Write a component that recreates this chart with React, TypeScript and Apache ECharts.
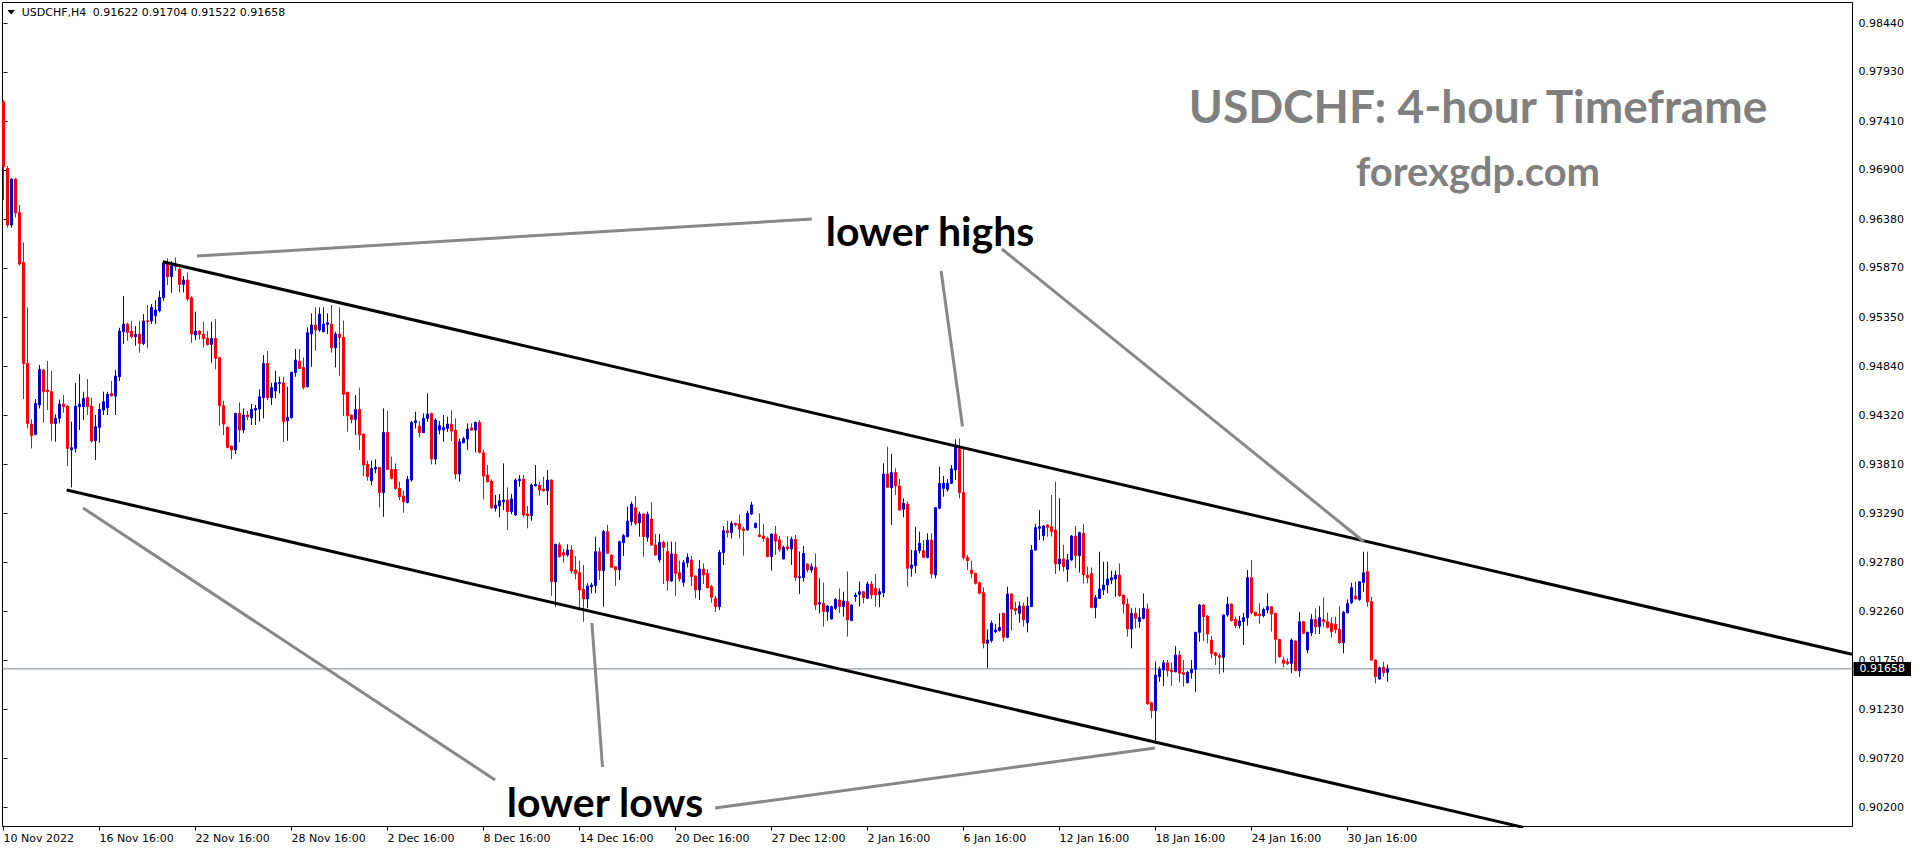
import React, { useEffect, useRef } from 'react';
import * as echarts from 'echarts';

const symbolName = 'USDCHF,H4';
const titleText = 'USDCHF: 4-hour Timeframe';
const siteText = 'forexgdp.com';
const highsNote = 'lower highs';
const lowsNote = 'lower lows';

const xLabels = ['10 Nov 2022', '16 Nov 16:00', '22 Nov 16:00', '28 Nov 16:00', '2 Dec 16:00', '8 Dec 16:00', '14 Dec 16:00', '20 Dec 16:00', '27 Dec 12:00', '2 Jan 16:00', '6 Jan 16:00', '12 Jan 16:00', '18 Jan 16:00', '24 Jan 16:00', '30 Jan 16:00'];
const xLabelBars = [0, 24, 48, 72, 96, 120, 144, 168, 192, 216, 240, 264, 288, 312, 336];
const yTicks = [0.9844, 0.9793, 0.9741, 0.969, 0.9638, 0.9587, 0.9535, 0.9484, 0.9432, 0.9381, 0.9329, 0.9278, 0.9226, 0.9175, 0.9123, 0.9072, 0.902];

const opens = [
  0.97616, 0.96916, 0.96321, 0.96804, 0.96454, 0.95928, 0.94867, 0.94230, 0.94121, 0.94430,
  0.94797, 0.94587, 0.94570, 0.94237, 0.94290, 0.94440, 0.94419, 0.93957, 0.93974, 0.94412,
  0.94412, 0.94510, 0.94419, 0.94055, 0.94195, 0.94377, 0.94402, 0.94552, 0.94524, 0.94727,
  0.95200, 0.95281, 0.95207, 0.95148, 0.95176, 0.95077, 0.95316, 0.95312, 0.95368, 0.95421,
  0.95557, 0.95918, 0.95778, 0.95893, 0.95858, 0.95697, 0.95743, 0.95557, 0.95165, 0.95207,
  0.95172, 0.95130, 0.95067, 0.95130, 0.94927, 0.94423, 0.94198, 0.93999, 0.93957, 0.94342,
  0.94167, 0.94325, 0.94296, 0.94377, 0.94388, 0.94507, 0.94867, 0.94507, 0.94577, 0.94657,
  0.94664, 0.94265, 0.94296, 0.94773, 0.94892, 0.94825, 0.94622, 0.95176, 0.95270, 0.95218,
  0.95200, 0.95277, 0.95281, 0.95032, 0.95176, 0.95140, 0.94563, 0.94325, 0.94279, 0.94384,
  0.94125, 0.93810, 0.93635, 0.93757, 0.93775, 0.93509, 0.94142, 0.93754, 0.93754, 0.93554,
  0.93474, 0.93407, 0.93642, 0.94244, 0.94209, 0.94139, 0.94290, 0.94342, 0.93862, 0.94167,
  0.94167, 0.94184, 0.94230, 0.94167, 0.93705, 0.94034, 0.94072, 0.94191, 0.94167, 0.94248,
  0.93929, 0.93694, 0.93631, 0.93345, 0.93369, 0.93415, 0.93432, 0.93310, 0.93275, 0.93635,
  0.93653, 0.93285, 0.93268, 0.93583, 0.93590, 0.93548, 0.93530, 0.93642, 0.92574, 0.92960,
  0.92879, 0.92854, 0.92907, 0.92697, 0.92669, 0.92494, 0.92392, 0.92522, 0.92532, 0.92889,
  0.92690, 0.93100, 0.92854, 0.92732, 0.92697, 0.92984, 0.93047, 0.93205, 0.93352, 0.93194,
  0.93285, 0.93040, 0.93233, 0.92960, 0.92802, 0.92988, 0.92890, 0.92581, 0.92865, 0.92669,
  0.92567, 0.92774, 0.92802, 0.92634, 0.92487, 0.92707, 0.92662, 0.92522, 0.92399, 0.92312,
  0.92879, 0.93110, 0.93089, 0.93187, 0.93180, 0.93128, 0.93117, 0.93285, 0.93142, 0.93065,
  0.93054, 0.93029, 0.92837, 0.93075, 0.93012, 0.92813, 0.92942, 0.92918, 0.93019, 0.92616,
  0.92616, 0.92760, 0.92697, 0.92725, 0.92340, 0.92347, 0.92259, 0.92182, 0.92294, 0.92382,
  0.92312, 0.92364, 0.92165, 0.92417, 0.92441, 0.92469, 0.92399, 0.92550, 0.92504, 0.92441,
  0.92459, 0.93706, 0.93562, 0.93720, 0.93580, 0.93334, 0.93390, 0.92715, 0.92743, 0.92900,
  0.92900, 0.92827, 0.93012, 0.92645, 0.93345, 0.93555, 0.93545, 0.93608, 0.93748, 0.93993,
  0.93510, 0.92827, 0.92697, 0.92662, 0.92564, 0.92459, 0.91927, 0.91955, 0.92049, 0.92060,
  0.92242, 0.91990, 0.92445, 0.92294, 0.92242, 0.92319, 0.92144, 0.92312, 0.92907, 0.93135,
  0.93057, 0.93170, 0.93152, 0.93117, 0.92760, 0.92813, 0.92704, 0.92802, 0.93054, 0.92848,
  0.93082, 0.92644, 0.92661, 0.92304, 0.92399, 0.92486, 0.92539, 0.92591, 0.92602, 0.92644,
  0.92434, 0.92339, 0.92077, 0.92241, 0.92154, 0.92189, 0.92287, 0.91303, 0.91219, 0.91576,
  0.91646, 0.91723, 0.91646, 0.91628, 0.91804, 0.91618, 0.91513, 0.91618, 0.91653, 0.92042,
  0.92329, 0.92213, 0.91961, 0.91828, 0.91797, 0.91779, 0.92224, 0.92339, 0.92178, 0.92112,
  0.92154, 0.92196, 0.92616, 0.92252, 0.92234, 0.92217, 0.92276, 0.92311, 0.92241, 0.91968,
  0.91751, 0.91733, 0.91716, 0.91951, 0.91639, 0.92154, 0.91856, 0.92038, 0.92178, 0.92101,
  0.92178, 0.92154, 0.92136, 0.92129, 0.92073, 0.91933, 0.92248, 0.92353, 0.92423, 0.92388,
  0.92567, 0.92679, 0.92364, 0.91751, 0.91551, 0.91674, 0.91622
];

const highs = [
  0.97634, 0.96941, 0.96811, 0.96811, 0.96531, 0.96139, 0.95456, 0.94279, 0.94493, 0.94850,
  0.94810, 0.94892, 0.94787, 0.94332, 0.94489, 0.94535, 0.94430, 0.94255, 0.94664, 0.94755,
  0.94570, 0.94703, 0.94507, 0.94325, 0.94447, 0.94570, 0.94570, 0.94682, 0.94797, 0.95242,
  0.95575, 0.95295, 0.95312, 0.95260, 0.95312, 0.95386, 0.95480, 0.95491, 0.95533, 0.95631,
  0.95942, 0.95970, 0.95942, 0.95981, 0.95876, 0.95785, 0.95823, 0.95575, 0.95410, 0.95215,
  0.95305, 0.95207, 0.95305, 0.95333, 0.94935, 0.94475, 0.94205, 0.94005, 0.94348, 0.94458,
  0.94395, 0.94367, 0.94440, 0.94430, 0.94594, 0.94955, 0.94997, 0.94664, 0.94790, 0.94727,
  0.94727, 0.94622, 0.94780, 0.95018, 0.95018, 0.94930, 0.95246, 0.95393, 0.95456, 0.95456,
  0.95456, 0.95393, 0.95480, 0.95200, 0.95456, 0.95316, 0.94570, 0.94330, 0.94535, 0.94612,
  0.94130, 0.93845, 0.93845, 0.93859, 0.93780, 0.94395, 0.94367, 0.93887, 0.93817, 0.93624,
  0.93530, 0.93684, 0.94265, 0.94360, 0.94262, 0.94342, 0.94552, 0.94349, 0.94290, 0.94262,
  0.94325, 0.94307, 0.94377, 0.94290, 0.94079, 0.94097, 0.94237, 0.94237, 0.94255, 0.94272,
  0.93964, 0.93799, 0.93649, 0.93485, 0.93495, 0.93817, 0.93565, 0.93495, 0.93660, 0.93695,
  0.93695, 0.93369, 0.93607, 0.93800, 0.93625, 0.93677, 0.93747, 0.93648, 0.92972, 0.92988,
  0.92918, 0.92967, 0.92960, 0.92844, 0.92795, 0.92749, 0.92557, 0.92564, 0.93047, 0.92935,
  0.93117, 0.93170, 0.92860, 0.92738, 0.93000, 0.93075, 0.93362, 0.93415, 0.93474, 0.93310,
  0.93292, 0.93310, 0.93408, 0.93075, 0.93075, 0.93005, 0.92995, 0.92995, 0.92995, 0.92795,
  0.92802, 0.92872, 0.92844, 0.92640, 0.92802, 0.92767, 0.92704, 0.92539, 0.92424, 0.92907,
  0.93159, 0.93215, 0.93212, 0.93194, 0.93275, 0.93152, 0.93320, 0.93415, 0.93194, 0.93292,
  0.93180, 0.93047, 0.93082, 0.93159, 0.93054, 0.92953, 0.93054, 0.93047, 0.93065, 0.92890,
  0.92949, 0.92765, 0.92767, 0.92872, 0.92609, 0.92564, 0.92329, 0.92322, 0.92399, 0.92504,
  0.92469, 0.92680, 0.92334, 0.92459, 0.92574, 0.92476, 0.92574, 0.92581, 0.92655, 0.92504,
  0.93818, 0.93993, 0.93916, 0.93765, 0.93653, 0.93450, 0.93415, 0.92907, 0.93152, 0.93100,
  0.93012, 0.93082, 0.93082, 0.93357, 0.93783, 0.93685, 0.93653, 0.93800, 0.94070, 0.94080,
  0.93975, 0.92855, 0.92795, 0.92669, 0.92574, 0.92515, 0.92074, 0.92165, 0.92130, 0.92242,
  0.92247, 0.92522, 0.92450, 0.92364, 0.92364, 0.92354, 0.92417, 0.92960, 0.93180, 0.93327,
  0.93170, 0.93180, 0.93485, 0.93625, 0.93450, 0.92960, 0.92865, 0.93065, 0.93159, 0.93100,
  0.93180, 0.92732, 0.92724, 0.92434, 0.92889, 0.92784, 0.92784, 0.92689, 0.92689, 0.92766,
  0.92439, 0.92399, 0.92294, 0.92301, 0.92294, 0.92451, 0.92346, 0.91308, 0.91733, 0.91681,
  0.91751, 0.91751, 0.91723, 0.91898, 0.91849, 0.91751, 0.91639, 0.91751, 0.92047, 0.92339,
  0.92339, 0.92224, 0.92003, 0.91838, 0.91821, 0.92229, 0.92416, 0.92346, 0.92206, 0.92213,
  0.92248, 0.92697, 0.92802, 0.92259, 0.92346, 0.92301, 0.92451, 0.92318, 0.92246, 0.91973,
  0.91786, 0.91768, 0.91979, 0.91956, 0.92259, 0.92161, 0.92049, 0.92234, 0.92294, 0.92318,
  0.92409, 0.92248, 0.92199, 0.92206, 0.92318, 0.92266, 0.92388, 0.92563, 0.92574, 0.92579,
  0.92889, 0.92889, 0.92416, 0.91756, 0.91681, 0.91733, 0.91704
];

const lows = [
  0.96583, 0.96296, 0.96293, 0.96401, 0.95893, 0.94493, 0.94184, 0.93974, 0.94111, 0.94395,
  0.94244, 0.94377, 0.94055, 0.94044, 0.94237, 0.94349, 0.93789, 0.93565, 0.93929, 0.94167,
  0.94272, 0.94325, 0.94034, 0.93852, 0.94034, 0.94325, 0.94325, 0.94517, 0.94325, 0.94682,
  0.95070, 0.95105, 0.95130, 0.95053, 0.94979, 0.95060, 0.95025, 0.95281, 0.95281, 0.95403,
  0.95526, 0.95690, 0.95610, 0.95841, 0.95613, 0.95613, 0.95526, 0.95084, 0.95112, 0.95119,
  0.95035, 0.95055, 0.94874, 0.94804, 0.94213, 0.94114, 0.93974, 0.93862, 0.93915, 0.94037,
  0.94132, 0.94272, 0.94220, 0.94220, 0.94255, 0.94290, 0.94482, 0.94430, 0.94500, 0.94552,
  0.94044, 0.94055, 0.94290, 0.94727, 0.94808, 0.94594, 0.94615, 0.94832, 0.95000, 0.95200,
  0.95195, 0.95175, 0.94980, 0.94825, 0.94738, 0.94314, 0.94149, 0.94237, 0.94114, 0.93957,
  0.93684, 0.93635, 0.93589, 0.93712, 0.93354, 0.93256, 0.93747, 0.93649, 0.93537, 0.93432,
  0.93298, 0.93396, 0.93624, 0.94184, 0.94090, 0.94135, 0.94255, 0.93806, 0.93806, 0.94121,
  0.94044, 0.94149, 0.94051, 0.93649, 0.93624, 0.94027, 0.93957, 0.94156, 0.93932, 0.93922,
  0.93439, 0.93617, 0.93337, 0.93310, 0.93250, 0.93327, 0.93117, 0.93282, 0.93264, 0.93572,
  0.93250, 0.93135, 0.93215, 0.93572, 0.93478, 0.93520, 0.93380, 0.92424, 0.92312, 0.92827,
  0.92774, 0.92837, 0.92662, 0.92599, 0.92294, 0.92154, 0.92294, 0.92452, 0.92452, 0.92592,
  0.92312, 0.92865, 0.92720, 0.92529, 0.92592, 0.92844, 0.93040, 0.93163, 0.93163, 0.93047,
  0.92837, 0.92995, 0.92950, 0.92847, 0.92777, 0.92550, 0.92480, 0.92574, 0.92424, 0.92574,
  0.92522, 0.92725, 0.92529, 0.92399, 0.92382, 0.92550, 0.92504, 0.92354, 0.92259, 0.92277,
  0.92749, 0.93040, 0.93029, 0.93152, 0.93029, 0.92847, 0.93110, 0.93275, 0.93135, 0.93040,
  0.92995, 0.92830, 0.92690, 0.92855, 0.92889, 0.92808, 0.92900, 0.92750, 0.92581, 0.92445,
  0.92574, 0.92672, 0.92669, 0.92277, 0.92242, 0.92102, 0.92165, 0.92177, 0.92277, 0.92242,
  0.92207, 0.91997, 0.92160, 0.92364, 0.92312, 0.92347, 0.92394, 0.92392, 0.92312, 0.92305,
  0.92410, 0.93560, 0.93170, 0.93485, 0.93320, 0.93250, 0.92522, 0.92627, 0.92662, 0.92872,
  0.92825, 0.92820, 0.92609, 0.92609, 0.93334, 0.93467, 0.93520, 0.93601, 0.93643, 0.93450,
  0.92805, 0.92697, 0.92609, 0.92545, 0.92440, 0.91874, 0.91664, 0.91934, 0.92032, 0.92049,
  0.91944, 0.91979, 0.92060, 0.92224, 0.92144, 0.92102, 0.92042, 0.92307, 0.92900, 0.93012,
  0.93005, 0.93047, 0.93047, 0.92655, 0.92690, 0.92680, 0.92574, 0.92795, 0.92715, 0.92669,
  0.92557, 0.92556, 0.92294, 0.92189, 0.92394, 0.92434, 0.92451, 0.92549, 0.92416, 0.92416,
  0.92241, 0.91996, 0.91874, 0.92084, 0.92091, 0.92178, 0.91284, 0.91138, 0.90875, 0.91523,
  0.91478, 0.91576, 0.91481, 0.91621, 0.91516, 0.91471, 0.91506, 0.91558, 0.91411, 0.91944,
  0.91951, 0.91926, 0.91769, 0.91698, 0.91604, 0.91621, 0.92206, 0.92159, 0.92084, 0.92084,
  0.91909, 0.92112, 0.92234, 0.92210, 0.92129, 0.92199, 0.92241, 0.92049, 0.91716, 0.91775,
  0.91674, 0.91698, 0.91611, 0.91634, 0.91576, 0.92024, 0.91821, 0.92003, 0.92024, 0.92024,
  0.92101, 0.92084, 0.91989, 0.92031, 0.91919, 0.91821, 0.92241, 0.92339, 0.92388, 0.92374,
  0.92469, 0.92311, 0.91746, 0.91506, 0.91545, 0.91576, 0.91522
];

const closes = [
  0.96933, 0.96321, 0.96804, 0.96450, 0.95911, 0.94867, 0.94237, 0.94107, 0.94447, 0.94804,
  0.94570, 0.94570, 0.94237, 0.94290, 0.94440, 0.94412, 0.93974, 0.93981, 0.94419, 0.94440,
  0.94500, 0.94412, 0.94051, 0.94202, 0.94384, 0.94465, 0.94542, 0.94528, 0.94734, 0.95207,
  0.95281, 0.95193, 0.95148, 0.95172, 0.95077, 0.95312, 0.95305, 0.95456, 0.95428, 0.95561,
  0.95918, 0.95778, 0.95893, 0.95883, 0.95697, 0.95743, 0.95543, 0.95176, 0.95207, 0.95172,
  0.95130, 0.95065, 0.95130, 0.94920, 0.94423, 0.94230, 0.93985, 0.93957, 0.94342, 0.94167,
  0.94325, 0.94307, 0.94384, 0.94395, 0.94517, 0.94867, 0.94507, 0.94612, 0.94664, 0.94668,
  0.94255, 0.94300, 0.94773, 0.94902, 0.94815, 0.94615, 0.95190, 0.95270, 0.95218, 0.95386,
  0.95281, 0.95295, 0.95032, 0.95176, 0.95140, 0.94542, 0.94318, 0.94279, 0.94384, 0.94114,
  0.93799, 0.93677, 0.93764, 0.93775, 0.93509, 0.94142, 0.93754, 0.93659, 0.93554, 0.93467,
  0.93414, 0.93649, 0.94248, 0.94265, 0.94139, 0.94290, 0.94335, 0.93862, 0.94272, 0.94213,
  0.94195, 0.94230, 0.94156, 0.93705, 0.94044, 0.94076, 0.94177, 0.94167, 0.94248, 0.93932,
  0.93684, 0.93624, 0.93351, 0.93380, 0.93425, 0.93432, 0.93310, 0.93443, 0.93642, 0.93649,
  0.93275, 0.93268, 0.93590, 0.93597, 0.93537, 0.93530, 0.93642, 0.92574, 0.92967, 0.92837,
  0.92854, 0.92907, 0.92686, 0.92662, 0.92487, 0.92392, 0.92529, 0.92539, 0.92889, 0.92690,
  0.93100, 0.92872, 0.92725, 0.92697, 0.92995, 0.93058, 0.93212, 0.93390, 0.93187, 0.93285,
  0.93047, 0.93282, 0.92958, 0.92854, 0.92988, 0.92935, 0.92585, 0.92865, 0.92662, 0.92602,
  0.92774, 0.92830, 0.92627, 0.92487, 0.92707, 0.92644, 0.92511, 0.92410, 0.92312, 0.92883,
  0.93110, 0.93089, 0.93187, 0.93170, 0.93124, 0.93110, 0.93292, 0.93380, 0.93187, 0.93047,
  0.93029, 0.92837, 0.93075, 0.93001, 0.92914, 0.92935, 0.92918, 0.93019, 0.92616, 0.92627,
  0.92872, 0.92697, 0.92732, 0.92329, 0.92354, 0.92259, 0.92319, 0.92312, 0.92389, 0.92312,
  0.92371, 0.92172, 0.92329, 0.92434, 0.92469, 0.92406, 0.92550, 0.92434, 0.92434, 0.92469,
  0.93706, 0.93566, 0.93720, 0.93580, 0.93327, 0.93397, 0.92715, 0.92750, 0.92900, 0.92977,
  0.92830, 0.93012, 0.92655, 0.93352, 0.93608, 0.93608, 0.93608, 0.93758, 0.94010, 0.93510,
  0.92827, 0.92795, 0.92662, 0.92557, 0.92452, 0.91927, 0.91962, 0.92137, 0.92067, 0.92095,
  0.91990, 0.92445, 0.92284, 0.92270, 0.92319, 0.92172, 0.92319, 0.92907, 0.93142, 0.93152,
  0.93159, 0.93145, 0.93100, 0.92760, 0.92813, 0.92732, 0.92802, 0.93054, 0.92848, 0.93089,
  0.92645, 0.92616, 0.92304, 0.92406, 0.92497, 0.92539, 0.92602, 0.92616, 0.92644, 0.92427,
  0.92339, 0.92077, 0.92241, 0.92189, 0.92196, 0.92294, 0.91289, 0.91219, 0.91593, 0.91653,
  0.91723, 0.91639, 0.91628, 0.91804, 0.91611, 0.91600, 0.91621, 0.91653, 0.92042, 0.92329,
  0.92206, 0.92024, 0.91821, 0.91797, 0.91779, 0.92224, 0.92339, 0.92164, 0.92112, 0.92161,
  0.92196, 0.92616, 0.92248, 0.92217, 0.92217, 0.92283, 0.92311, 0.92234, 0.91968, 0.91786,
  0.91716, 0.91716, 0.91961, 0.91639, 0.92154, 0.92031, 0.92042, 0.92178, 0.92101, 0.92196,
  0.92154, 0.92094, 0.92049, 0.92073, 0.91933, 0.92252, 0.92346, 0.92511, 0.92392, 0.92574,
  0.92668, 0.92364, 0.91751, 0.91576, 0.91670, 0.91618, 0.91658
];

// Hand-drawn channel and pointer lines: [bar index, price]
const upperChannel = [[39.8, 0.95936], [462.1, 0.91811]];
const lowerChannel = [[15.8, 0.93537], [380, 0.89993]];
const highsPointers = [
  [[48.4, 0.95995], [202.1, 0.96384]],
  [[234.4, 0.95838], [239.75, 0.94204]],
  [[249.6, 0.96069], [340.1, 0.92994]]
];
const lowsPointers = [
  [[19.9, 0.93348], [122.9, 0.90491]],
  [[147.1, 0.92140], [149.75, 0.90627]],
  [[177.9, 0.90196], [287.9, 0.90826]]
];

const UP = '#0000d2';
const DOWN = '#ff0000';
const FONT = 'DejaVu Sans';
const ANN = 'Lato';

export default function App() {
  const ref = useRef<HTMLDivElement>(null);
  useEffect(() => {
    if (!ref.current) return;
    const chart = echarts.init(ref.current, undefined, { renderer: 'svg' });
    const n = opens.length;
    const candles = opens.map((o, i) => [i, o, closes[i], lows[i], highs[i]]);
    const last = n - 1;
    const bid = closes[last];
    const ohlcText = [opens[last], highs[last], lows[last], closes[last]].map((v) => v.toFixed(5)).join(' ');

    const lineSeries = (data: number[][], color: string, extra: any = {}) => ({
      type: 'line',
      data,
      symbol: 'none',
      silent: true,
      clip: true,
      z: 5,
      lineStyle: { color, width: 3, cap: 'butt' },
      emphasis: { disabled: true },
      ...extra,
    });

    const option: any = {
      animation: false,
      backgroundColor: '#ffffff',
      grid: { left: 2.5, top: 2.5, right: 63.5, bottom: 23.5, show: true, borderColor: '#000', borderWidth: 1, backgroundColor: 'transparent' },
      xAxis: {
        type: 'value',
        min: -0.25,
        max: 462.25,
        axisLine: { show: false },
        splitLine: { show: false },
        axisTick: { show: true, customValues: xLabelBars, length: 4, lineStyle: { color: '#000' } },
        axisLabel: {
          customValues: xLabelBars,
          formatter: (v: number) => {
            const k = xLabelBars.indexOf(Math.round(v));
            return k >= 0 ? xLabels[k] : '';
          },
          align: 'left',
          margin: 6,
          color: '#000',
          fontFamily: FONT,
          fontSize: 11,
        },
      },
      yAxis: {
        type: 'value',
        position: 'right',
        min: 0.90002,
        max: 0.98659,
        axisLine: { show: false },
        splitLine: { show: false },
        axisTick: { show: true, customValues: yTicks, length: 4, lineStyle: { color: '#000' } },
        axisLabel: {
          customValues: yTicks,
          formatter: (v: number) => v.toFixed(5),
          margin: 6,
          color: '#000',
          fontFamily: FONT,
          fontSize: 11,
        },
      },
      series: [
        {
          type: 'candlestick',
          data: candles,
          barWidth: 2,
          silent: true,
          clip: true,
          z: 3,
          emphasis: { disabled: true },
          itemStyle: { color: UP, color0: DOWN, borderColor: UP, borderColor0: DOWN, borderColorDoji: UP, borderWidth: 1 },
        },
        lineSeries([[-0.25, bid], [462.25, bid]], '#778899', {
          z: 2,
          lineStyle: { color: '#778899', width: 1 },
          endLabel: {
            show: true,
            formatter: bid.toFixed(5),
            distance: 1,
            backgroundColor: '#000',
            color: '#fff',
            padding: [2, 6, 1, 6],
            fontFamily: FONT,
            fontSize: 11,
          },
        }),
        lineSeries(upperChannel, '#000'),
        lineSeries(lowerChannel, '#000'),
        ...highsPointers.map((d) => lineSeries(d, '#888888')),
        ...lowsPointers.map((d) => lineSeries(d, '#888888')),
      ],
      graphic: [
        { type: 'polygon', shape: { points: [[7.5, 10], [15, 10], [11.25, 14.5]] }, style: { fill: '#000' }, silent: true },
        { type: 'text', x: 21.7, y: 12.7, style: { text: symbolName, fill: '#000', font: `11px "${FONT}"`, textVerticalAlign: 'middle', verticalAlign: 'middle' }, silent: true },
        { type: 'text', x: 92.7, y: 12.7, style: { text: ohlcText, fill: '#000', font: `11px "${FONT}"`, textVerticalAlign: 'middle', verticalAlign: 'middle' }, silent: true },
        { type: 'text', x: 1478, y: 105.5, style: { text: titleText, fill: '#808080', font: `bold 46px ${ANN}`, textAlign: 'center', align: 'center', textVerticalAlign: 'middle', verticalAlign: 'middle' }, silent: true, z: 10 },
        { type: 'text', x: 1478, y: 171, style: { text: siteText, fill: '#808080', font: `bold 40px ${ANN}`, textAlign: 'center', align: 'center', textVerticalAlign: 'middle', verticalAlign: 'middle' }, silent: true, z: 10 },
        { type: 'text', x: 930, y: 230.7, style: { text: highsNote, fill: '#000', font: `bold 41px ${ANN}`, textAlign: 'center', align: 'center', textVerticalAlign: 'middle', verticalAlign: 'middle' }, silent: true, z: 10 },
        { type: 'text', x: 605, y: 801.7, style: { text: lowsNote, fill: '#000', font: `bold 41px ${ANN}`, textAlign: 'center', align: 'center', textVerticalAlign: 'middle', verticalAlign: 'middle' }, silent: true, z: 10 },
      ],
    };
    chart.setOption(option);
    return () => chart.dispose();
  }, []);
  return <div ref={ref} style={{ position: 'absolute', left: 0, top: 0, width: 1916, height: 850, background: '#fff' }} />;
}
